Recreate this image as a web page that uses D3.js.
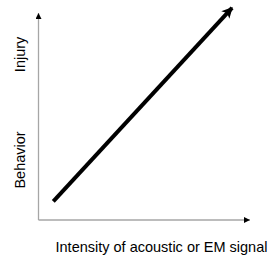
<!DOCTYPE html>
<html>
<head>
<meta charset="utf-8">
<script src="https://cdn.jsdelivr.net/npm/d3@7"></script>
<style>
  body { margin: 0; background: #fff; }
  text { font-family: "Liberation Sans", Arial, sans-serif; }
</style>
</head>
<body>
<div id="chart"></div>
<script>
// Data: schematic trend, signal intensity vs. response level
const intensity = [0.07, 0.915];
const response = [0.09, 1.025];
const yLabels = ["Behavior", "Injury"];
const yLabelPos = [0.29, 0.80];
const xTitle = "Intensity of acoustic or EM signal";

const width = 272;
const height = 257;
const margin = {top: 13, right: 22, bottom: 37, left: 38.5};

const svg = d3.select("#chart")
    .append("svg")
    .attr("width", width)
    .attr("height", height);

const x = d3.scaleLinear()
    .domain([0, 1])
    .range([margin.left, width - margin.right]);

const y = d3.scaleLinear()
    .domain([0, 1])
    .range([height - margin.bottom, margin.top]);

// Arrow markers
const defs = svg.append("defs");
defs.append("marker")
    .attr("id", "axisArrow")
    .attr("viewBox", "0 0 10 10")
    .attr("refX", 10)
    .attr("refY", 5)
    .attr("markerWidth", 7)
    .attr("markerHeight", 6)
    .attr("markerUnits", "userSpaceOnUse")
    .attr("orient", "auto")
    .append("path")
    .attr("d", "M0,0L10,5L0,10Z")
    .attr("fill", "#000");

defs.append("marker")
    .attr("id", "lineArrow")
    .attr("viewBox", "0 0 10 10")
    .attr("refX", 9)
    .attr("refY", 5)
    .attr("markerWidth", 13)
    .attr("markerHeight", 11)
    .attr("markerUnits", "userSpaceOnUse")
    .attr("orient", "auto")
    .append("path")
    .attr("d", "M0,0L10,5L0,10L2.5,5Z")
    .attr("fill", "#000");

// Axes
svg.append("line")
    .attr("x1", x(0)).attr("y1", y(0))
    .attr("x2", x(0)).attr("y2", y(1))
    .attr("stroke", "#a6a6a6")
    .attr("stroke-width", 1.3)
    .attr("marker-end", "url(#axisArrow)");

svg.append("line")
    .attr("x1", x(0)).attr("y1", y(0))
    .attr("x2", x(1)).attr("y2", y(0))
    .attr("stroke", "#a6a6a6")
    .attr("stroke-width", 1.3)
    .attr("marker-end", "url(#axisArrow)");

// Trend line
svg.append("line")
    .attr("x1", x(intensity[0])).attr("y1", y(response[0]))
    .attr("x2", x(intensity[1])).attr("y2", y(response[1]))
    .attr("stroke", "#000")
    .attr("stroke-width", 4)
    .attr("marker-end", "url(#lineArrow)");

// Y labels
svg.selectAll(".ylab")
    .data(yLabels)
    .join("text")
    .attr("class", "ylab")
    .attr("transform", (d, i) => `translate(25,${y(yLabelPos[i])}) rotate(-90)`)
    .attr("text-anchor", "middle")
    .attr("font-size", 14.5)
    .attr("fill", "#000")
    .text(d => d);

// X title
svg.append("text")
    .attr("x", 161.5)
    .attr("y", 252)
    .attr("text-anchor", "middle")
    .attr("font-size", 14.5)
    .attr("fill", "#000")
    .text(xTitle);
</script>
</body>
</html>
